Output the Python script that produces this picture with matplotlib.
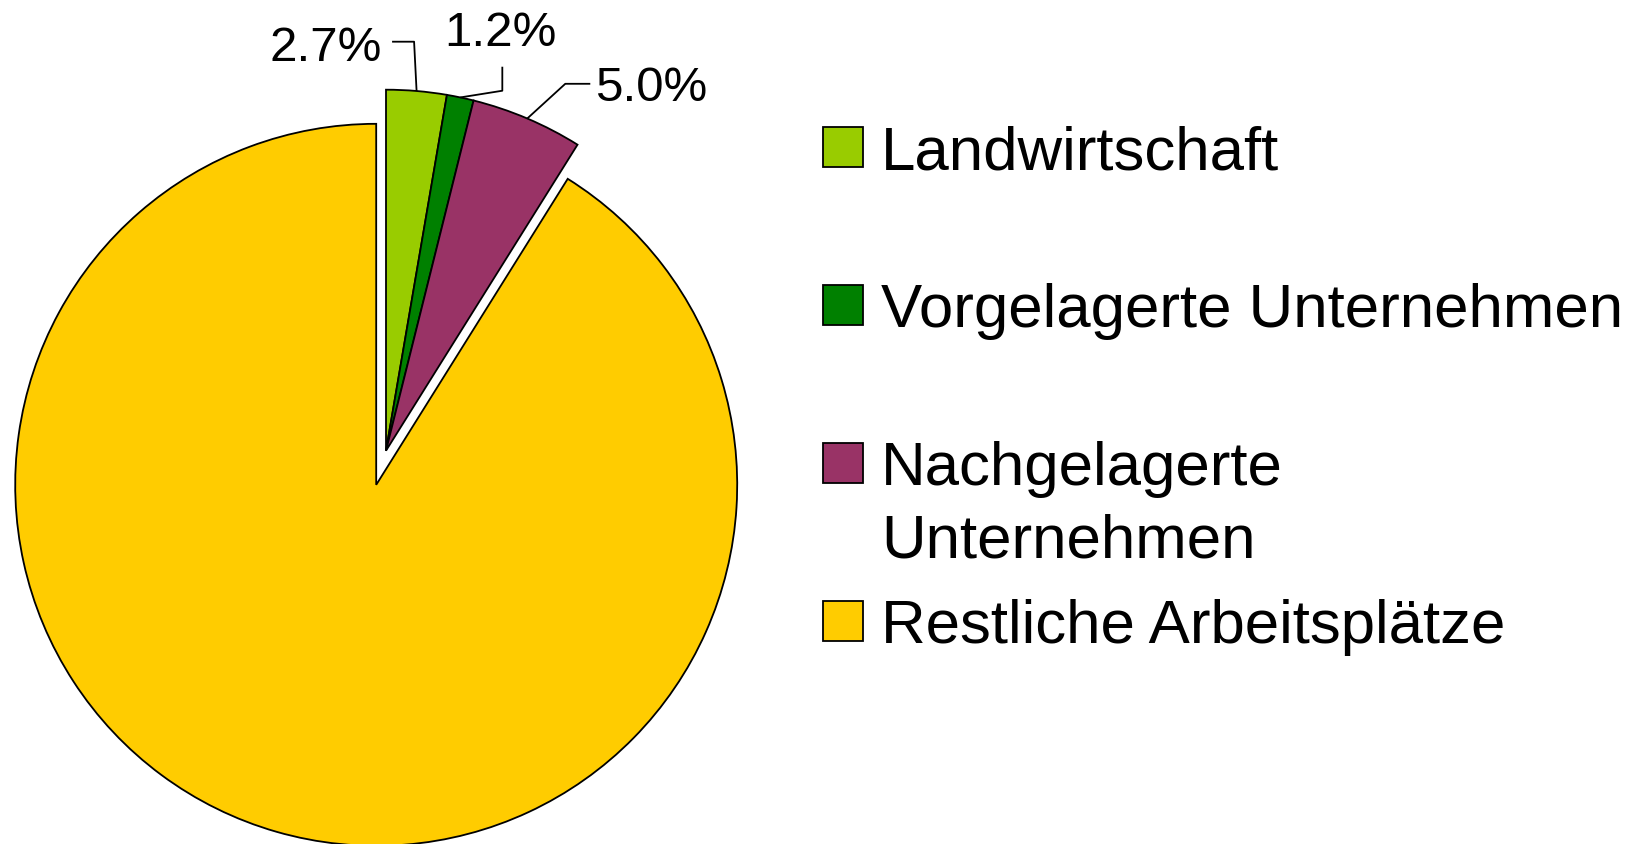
import numpy as np
import matplotlib
matplotlib.use("Agg")
import matplotlib.pyplot as plt
from matplotlib.patches import Rectangle

plt.rcParams['font.family'] = ['Liberation Sans', 'DejaVu Sans']

# data
categories = ["Landwirtschaft", "Vorgelagerte Unternehmen",
              "Nachgelagerte\nUnternehmen", "Restliche Arbeitsplätze"]
shares = [2.7, 1.2, 5.0, 91.1]
colors = ["#99CC00", "#008000", "#993366", "#FFCC00"]
show_label = [True, True, True, False]

# layout (pixels, figure is 1637x844 at dpi 100)
W, H = 1637, 844
R_PX = 361.0                 # pie radius in pixels
CX, CY = 386.0, 450.7        # pie centre, pixels from top-left
explode = [0, 0, 0, 35.5 / R_PX]

# leader line elbows / ends and text anchor, offsets from slice arc point (px, y down)
elbow_off = [(-2.5, -49.3), (42, -6.7), (38, -34.7)]
end_off = [(-24.5, -49.3), (42, -30.7), (63, -34.7)]
text_off = [(-34.5, -29.5), (40, -51.7), (68, -17.7)]
text_ha = ["right", "center", "left"]


def px(dx, dy):
    return dx / R_PX, -dy / R_PX


fig = plt.figure(figsize=(W / 100, H / 100), dpi=100)
ax = fig.add_axes([0, 0, 1, 1])

wedges, _ = ax.pie(shares, colors=colors, explode=explode, startangle=90,
                   counterclock=False, radius=1.0,
                   wedgeprops=dict(edgecolor="black", linewidth=1.3))

ax.set_xlim(-CX / R_PX, (W - CX) / R_PX)
ax.set_ylim(-(H - CY) / R_PX, CY / R_PX)
ax.set_aspect("auto")
ax.axis("off")

# percentage labels with elbow leader lines
k = 0
for w, v, show in zip(wedges, shares, show_label):
    if not show:
        continue
    ang = np.deg2rad((w.theta1 + w.theta2) / 2)
    ax_, ay_ = np.cos(ang), np.sin(ang)
    ex, ey = px(*elbow_off[k])
    nx, ny = px(*end_off[k])
    ax.plot([ax_, ax_ + ex, ax_ + nx], [ay_, ay_ + ey, ay_ + ny],
            color="black", lw=1.3, solid_capstyle="butt")
    tx, ty = px(*text_off[k])
    ax.text(ax_ + tx, ay_ + ty, f"{v:.1f}%", fontsize=35.5,
            ha=text_ha[k], va="baseline")
    k += 1

# legend, drawn by hand so the two-line entry keeps its box at the first line
box = 40
box_x = 823
text_x = 881
row_y = [147, 305, 463, 621]
line_gap = 72
for lab, col, yc in zip(categories, colors, row_y):
    fig.add_artist(Rectangle((box_x / W, 1 - (yc + box / 2) / H), box / W, box / H,
                             transform=fig.transFigure, facecolor=col,
                             edgecolor="black", linewidth=1.3))
    for j, line in enumerate(lab.split("\n")):
        base = yc + 22.5 + j * line_gap
        fig.text(text_x / W, 1 - base / H, line, fontsize=44.5,
                 ha="left", va="baseline")

fig.savefig("out.png", dpi=100)
